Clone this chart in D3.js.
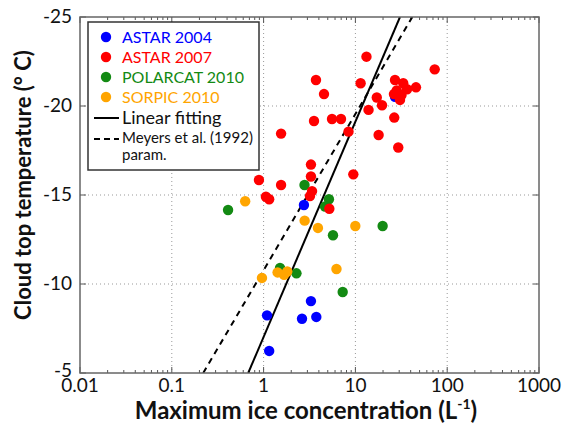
<!DOCTYPE html>
<html>
<head>
<meta charset="utf-8">
<script src="https://cdn.jsdelivr.net/npm/d3@7"></script>
<style>
  body { margin: 0; background: #fff; }
  svg { display: block; font-family: Lato, "Open Sans", sans-serif; }
</style>
</head>
<body>
<svg id="chart" width="571" height="428"></svg>
<script>
// Dados: [concentração (L-1), temperatura (°C)]
const astar2004 = [
  [2.75, -14.44], [3.28, -9.04], [1.09, -8.24], [2.62, -8.05],
  [3.75, -8.15], [1.15, -6.24], [27.0, -20.52]
];
const astar2007 = [
  [3.72, -21.46], [4.55, -20.67], [3.54, -19.16], [5.56, -19.27], [6.97, -19.27],
  [1.55, -18.45], [8.41, -18.56], [3.28, -16.71], [3.28, -16.04], [0.89, -15.84],
  [1.55, -15.56], [1.06, -14.90], [1.15, -14.76], [3.37, -15.22], [3.20, -14.94],
  [5.20, -14.23], [9.49, -16.16], [13.2, -22.77], [11.4, -21.28], [27.0, -21.46],
  [33.2, -21.28], [45.7, -21.05], [73.1, -22.06], [36.5, -20.94], [28.2, -20.87],
  [26.3, -20.67], [30.6, -20.34], [17.1, -20.48], [19.5, -20.04], [13.9, -19.78],
  [26.5, -19.35], [17.9, -18.37], [29.3, -17.67], [31.8, -20.62]
];
const polarcat2010 = [
  [0.41, -14.16], [2.79, -15.56], [5.15, -14.76], [4.67, -14.35], [5.70, -12.74],
  [19.8, -13.26], [1.51, -10.90], [2.28, -10.60], [7.27, -9.55]
];
const sorpic2010 = [
  [0.63, -14.65], [2.80, -13.56], [3.91, -13.15], [9.98, -13.26], [6.22, -10.84],
  [0.96, -10.34], [1.42, -10.65], [1.81, -10.70], [1.67, -10.51]
];
const ajusteLinear = [[0.68, -5], [30.6, -25]];
const meyers1992 = [[0.22, -5], [41.7, -25]];

const xTicks = [0.01, 0.1, 1, 10, 100, 1000];
const xTickLabels = ['0.01', '0.1', '1', '10', '100', '1000'];
const yTicks = [-25, -20, -15, -10, -5];

const series = [
  { nome: 'ASTAR 2004', dados: astar2004, cor: '#0000ff' },
  { nome: 'ASTAR 2007', dados: astar2007, cor: '#ff0000' },
  { nome: 'POLARCAT 2010', dados: polarcat2010, cor: '#138a13' },
  { nome: 'SORPIC 2010', dados: sorpic2010, cor: '#ffa500' }
];
// ordem de desenho (vermelho por cima)
const ordem = [2, 3, 0, 1];

const margem = { top: 17, right: 32, bottom: 55, left: 80 };
const largura = 571 - margem.left - margem.right;
const altura = 428 - margem.top - margem.bottom;

const svg = d3.select('#chart');
const g = svg.append('g').attr('transform', `translate(${margem.left},${margem.top})`);

const x = d3.scaleLog().domain([0.01, 1000]).range([0, largura]);
const y = d3.scaleLinear().domain([-25, -5]).range([0, altura]);

// Grade pontilhada
g.append('g').selectAll('line').data(xTicks.slice(1, -1)).enter().append('line')
  .attr('x1', d => x(d)).attr('x2', d => x(d)).attr('y1', 0).attr('y2', altura)
  .attr('stroke', '#999').attr('stroke-width', 1).attr('stroke-dasharray', '1,3');
g.append('g').selectAll('line').data(yTicks.slice(1, -1)).enter().append('line')
  .attr('y1', d => y(d)).attr('y2', d => y(d)).attr('x1', 0).attr('x2', largura)
  .attr('stroke', '#999').attr('stroke-width', 1).attr('stroke-dasharray', '1,3');

// Eixos com ticks para dentro
const minorTicks = [];
for (let e = -2; e < 3; e++) {
  for (let k = 2; k < 10; k++) minorTicks.push(k * Math.pow(10, e));
}
function ticksX(pos, dir) {
  const gx = g.append('g');
  gx.selectAll('.maj').data(xTicks).enter().append('line')
    .attr('x1', d => x(d)).attr('x2', d => x(d))
    .attr('y1', pos).attr('y2', pos + dir * 6)
    .attr('stroke', '#555').attr('stroke-width', 1);
  gx.selectAll('.min').data(minorTicks).enter().append('line')
    .attr('x1', d => x(d)).attr('x2', d => x(d))
    .attr('y1', pos).attr('y2', pos + dir * 3)
    .attr('stroke', '#555').attr('stroke-width', 1);
}
ticksX(altura, -1);
ticksX(0, 1);
[0, largura].forEach((pos, i) => {
  const dir = i === 0 ? 1 : -1;
  g.append('g').selectAll('line').data(yTicks).enter().append('line')
    .attr('y1', d => y(d)).attr('y2', d => y(d))
    .attr('x1', pos).attr('x2', pos + dir * 6)
    .attr('stroke', '#555').attr('stroke-width', 1);
});

// Rótulos dos ticks
g.append('g').selectAll('text').data(xTicks).enter().append('text')
  .attr('x', d => x(d)).attr('y', altura + 19)
  .attr('text-anchor', 'middle').attr('font-size', 19).attr('fill', '#111')
  .text((d, i) => xTickLabels[i]);
g.append('g').selectAll('text').data(yTicks).enter().append('text')
  .attr('x', -8).attr('y', d => y(d) + (d === -5 ? 4 : 6))
  .attr('text-anchor', 'end').attr('font-size', 19).attr('fill', '#111')
  .text(d => d);

// Títulos dos eixos
const tx = svg.append('text')
  .attr('x', 306).attr('y', 419)
  .attr('text-anchor', 'middle').attr('font-size', 24).attr('font-weight', 'bold').attr('fill', '#111');
tx.append('tspan').text('Maximum ice concentration (L');
tx.append('tspan').attr('font-size', 14).attr('dy', -10).text('-1');
tx.append('tspan').attr('dy', 10).text(')');

svg.append('text')
  .attr('transform', `translate(31,185) rotate(-90)`)
  .attr('text-anchor', 'middle').attr('font-size', 22).attr('font-weight', 'bold').attr('fill', '#111')
  .text('Cloud top temperature (° C)');

// Clip
svg.append('defs').append('clipPath').attr('id', 'area')
  .append('rect').attr('width', largura).attr('height', altura);
const plot = g.append('g').attr('clip-path', 'url(#area)');

const linha = d3.line().x(d => x(d[0])).y(d => y(d[1]));
plot.append('path').datum(ajusteLinear).attr('d', linha)
  .attr('fill', 'none').attr('stroke', '#000').attr('stroke-width', 2);
plot.append('path').datum(meyers1992).attr('d', linha)
  .attr('fill', 'none').attr('stroke', '#000').attr('stroke-width', 2)
  .attr('stroke-dasharray', '6,5');

// Pontos
ordem.forEach(i => {
  const s = series[i];
  plot.append('g').selectAll('circle').data(s.dados).enter().append('circle')
    .attr('cx', d => x(d[0])).attr('cy', d => y(d[1])).attr('r', 5.2)
    .attr('fill', s.cor);
});

// Moldura
g.append('rect').attr('width', largura).attr('height', altura)
  .attr('fill', 'none').attr('stroke', '#666').attr('stroke-width', 1.5);

// Legenda
const leg = g.append('g').attr('transform', 'translate(8,5)');
leg.append('rect').attr('width', 171).attr('height', 148)
  .attr('fill', '#fff').attr('stroke', '#333').attr('stroke-width', 1.5);
series.forEach((s, i) => {
  const yy = 15 + i * 20;
  leg.append('circle').attr('cx', 18).attr('cy', yy).attr('r', 5.2).attr('fill', s.cor);
  leg.append('text').attr('x', 34).attr('y', yy + 6).attr('font-size', 16)
    .attr('fill', s.cor).text(s.nome);
});
leg.append('line').attr('x1', 6).attr('x2', 31).attr('y1', 96).attr('y2', 96)
  .attr('stroke', '#000').attr('stroke-width', 2);
leg.append('text').attr('x', 34).attr('y', 102).attr('font-size', 18).attr('fill', '#111')
  .text('Linear fitting');
leg.append('line').attr('x1', 6).attr('x2', 31).attr('y1', 117).attr('y2', 117)
  .attr('stroke', '#000').attr('stroke-width', 2).attr('stroke-dasharray', '6,4');
leg.append('text').attr('x', 34).attr('y', 121).attr('font-size', 15).attr('fill', '#111')
  .text('Meyers et al. (1992)');
leg.append('text').attr('x', 34).attr('y', 138).attr('font-size', 15).attr('fill', '#111')
  .text('param.');
</script>
</body>
</html>
